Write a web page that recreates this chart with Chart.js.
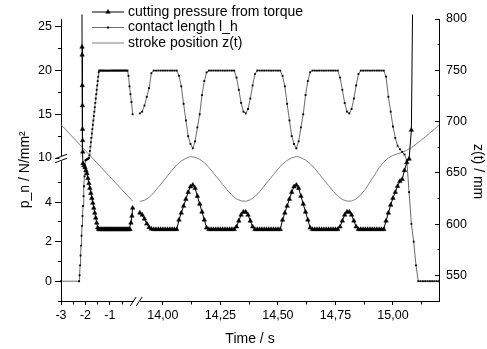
<!DOCTYPE html>
<html>
<head>
<meta charset="UTF-8">
<title>Cutting pressure</title>
<script src="https://cdn.jsdelivr.net/npm/chart.js"></script>
<style>
  html, body { margin: 0; padding: 0; background: #fff; }
  #wrap { width: 487px; height: 349px; }
</style>
</head>
<body>
<div id="wrap"><canvas id="chart" width="487" height="349"></canvas></div>
<script>
// ---- data, left part of the time axis (run-in, s) ----
const tContactL = [-3, -2.26, -2.24, -2.22, -2.20, -2.18, -2.16, -2.14, -2.12, -2.10, -2.08, -2.06, -2.04, -2.02, -2.00,
  -1.98, -1.96, -1.94, -1.92, -1.90, -1.88, -1.86, -1.84, -1.82, -1.80, -1.78, -1.76, -1.74, -1.72, -1.70,
  -1.68, -1.66, -1.64, -1.62, -1.60, -1.58, -1.56, -1.54, -1.52, -1.50, -1.48, -1.46, -1.44,
  -1.40, -1.36, -1.32, -1.28, -1.24, -1.20, -1.16, -1.12, -1.08, -1.04, -1.00, -0.96, -0.92, -0.88, -0.84,
  -0.80, -0.76, -0.72, -0.68, -0.64, -0.60, -0.56, -0.52, -0.48, -0.44, -0.40, -0.36, -0.32, -0.28,
  -0.24, -0.20, -0.16, -0.12, -0.07];
const contactL = [0, 0, 0.3, 0.8, 1.3, 1.8, 2.3, 2.8, 3.3, 3.8, 4.3, 4.8, 5.3, 5.8, 6.3,
  6.8, 7.3, 7.8, 8.3, 8.8, 9.3, 9.8, 10.3, 10.8, 11.3, 11.8, 12.3, 12.8, 13.3, 13.8,
  14.3, 14.8, 15.3, 15.8, 16.3, 16.8, 17.3, 17.8, 18.3, 18.8, 19.3, 19.8, 20,
  20, 20, 20, 20, 20, 20, 20, 20, 20, 20, 20, 20, 20, 20, 20,
  20, 20, 20, 20, 20, 20, 20, 20, 20, 20, 20, 20, 20, 20,
  19.4, 18.2, 17.3, 16.4, 15.0];

const tPressL = [-2.145, -2.14, -2.135, -2.13, -2.125, -2.12, -2.115, -2.11, -2.10,
  -2.06, -2.02, -1.98, -1.94, -1.90, -1.86, -1.82, -1.78, -1.74, -1.70, -1.66, -1.62, -1.58, -1.54, -1.50, -1.46,
  -1.42, -1.38, -1.34, -1.30, -1.26, -1.22, -1.18, -1.14, -1.10, -1.06, -1.02, -0.98, -0.94, -0.90, -0.86, -0.82,
  -0.78, -0.74, -0.70, -0.66, -0.62, -0.58, -0.54, -0.50, -0.46, -0.42, -0.38, -0.34, -0.30, -0.26, -0.22, -0.18,
  -0.14, -0.10, -0.07];
const pressL = [40, 22.7, 21.8, 18.3, 16.0, 13.3, 12.0, 10.7, 5.95,
  5.85, 5.75, 5.6, 5.45, 5.2, 4.95, 4.7, 4.45, 4.2, 3.95, 3.7, 3.45, 3.2, 2.95, 2.7, 2.62,
  2.62, 2.62, 2.62, 2.62, 2.62, 2.62, 2.62, 2.62, 2.62, 2.62, 2.62, 2.62, 2.62, 2.62, 2.62, 2.62,
  2.62, 2.62, 2.62, 2.62, 2.62, 2.62, 2.62, 2.62, 2.62, 2.62, 2.62, 2.62, 2.62, 2.62, 2.62, 2.62,
  2.95, 3.3, 3.7];

const tStrokeL = [-3, -2, -1, -0.07];
const strokeL = [697, 671.6, 646.2, 622.3];

// ---- data, right part of the time axis (s) ----
const tRight = [
  13.90, 13.91, 13.92, 13.93, 13.94, 13.95, 13.96, 13.97, 13.98, 13.99,
  14.00, 14.01, 14.02, 14.03, 14.04, 14.05, 14.06, 14.07, 14.08, 14.09,
  14.10, 14.11, 14.12, 14.13, 14.14, 14.15, 14.16, 14.17, 14.18, 14.19,
  14.20, 14.21, 14.22, 14.23, 14.24, 14.25, 14.26, 14.27, 14.28, 14.29,
  14.30, 14.31, 14.32, 14.33, 14.34, 14.35, 14.36, 14.37, 14.38, 14.39,
  14.40, 14.41, 14.42, 14.43, 14.44, 14.45, 14.46, 14.47, 14.48, 14.49,
  14.50, 14.51, 14.52, 14.53, 14.54, 14.55, 14.56, 14.57, 14.58, 14.59,
  14.60, 14.61, 14.62, 14.63, 14.64, 14.65, 14.66, 14.67, 14.68, 14.69,
  14.70, 14.71, 14.72, 14.73, 14.74, 14.75, 14.76, 14.77, 14.78, 14.79,
  14.80, 14.81, 14.82, 14.83, 14.84, 14.85, 14.86, 14.87, 14.88, 14.89,
  14.90, 14.91, 14.92, 14.93, 14.94, 14.95, 14.96, 14.97, 14.98, 14.99,
  15.00, 15.01, 15.02, 15.03, 15.04, 15.05, 15.06, 15.07, 15.08, 15.09,
  15.10, 15.11, 15.12, 15.13, 15.14, 15.15, 15.16, 15.17, 15.18, 15.19,
  15.20];
const contactR = [
  15.1, 15.3, 16.0, 17.0, 18.0, 19.7, 20, 20, 20, 20,
  20, 20, 20, 20, 20, 20, 20, 19.4, 18.2, 16.2,
  14.3, 12.5, 11.6, 11.1, 11.9, 13.5, 15.0, 17.2, 18.8, 19.8,
  20, 20, 20, 20, 20, 20, 20, 20, 20, 20,
  20, 20, 19.2, 17.8, 16.3, 15.3, 15.1, 15.6, 16.8, 18.3,
  19.6, 20, 20, 20, 20, 20, 20, 20, 20, 20,
  20, 20, 19.4, 18.2, 16.2, 14.3, 12.5, 11.6, 11.1, 11.9,
  13.5, 15.0, 17.2, 18.8, 19.8, 20, 20, 20, 20, 20,
  20, 20, 20, 20, 20, 20, 20, 19.2, 17.8, 16.3,
  15.3, 15.1, 15.6, 16.8, 18.3, 19.6, 20, 20, 20, 20,
  20, 20, 20, 20, 20, 20, 20, 19.3, 17.0, 15.3,
  13.6, 12.3, 11.4, 11.0, 10.7, 10.4, 6.5, 4.5, 2.9, 2.0,
  0.8, 0, 0, 0, 0, 0, 0, 0, 0, 0,
  0];
const pressR = [
  3.45, 3.35, 3.15, 2.9, 2.72, 2.64, 2.62, 2.62, 2.62, 2.62,
  2.62, 2.62, 2.62, 2.62, 2.62, 2.62, 2.62, 3.1, 3.45, 3.8,
  4.15, 4.5, 4.78, 4.86, 4.7, 4.3, 3.9, 3.5, 3.1, 2.7,
  2.62, 2.62, 2.62, 2.62, 2.62, 2.62, 2.62, 2.62, 2.62, 2.62,
  2.62, 2.62, 2.75, 3.05, 3.35, 3.5, 3.5, 3.35, 3.05, 2.75,
  2.62, 2.62, 2.62, 2.62, 2.62, 2.62, 2.62, 2.62, 2.62, 2.62,
  2.62, 2.62, 3.1, 3.45, 3.8, 4.15, 4.5, 4.78, 4.86, 4.7,
  4.3, 3.9, 3.5, 3.1, 2.7, 2.62, 2.62, 2.62, 2.62, 2.62,
  2.62, 2.62, 2.62, 2.62, 2.62, 2.62, 2.62, 2.75, 3.05, 3.35,
  3.5, 3.5, 3.35, 3.05, 2.75, 2.62, 2.62, 2.62, 2.62, 2.62,
  2.62, 2.62, 2.62, 2.62, 2.62, 2.62, 2.62, 3.05, 3.45, 3.85,
  4.2, 4.5, 4.8, 5.05, 5.15, 5.6, 6.0, 8.5, 13.2, 40,
  null, null, null, null, null, null, null, null, null, null,
  null];

const tStrokeR = [13.90, 13.92, 13.94, 13.96, 13.98, 14.00, 14.02, 14.04, 14.06, 14.08, 14.10, 14.12, 14.14,
  14.16, 14.18, 14.20, 14.22, 14.24, 14.26, 14.28, 14.30, 14.32, 14.34, 14.36, 14.38, 14.40, 14.42,
  14.44, 14.46, 14.48, 14.50, 14.52, 14.54, 14.56, 14.58, 14.60, 14.62, 14.64, 14.66, 14.68, 14.70,
  14.72, 14.74, 14.76, 14.78, 14.80, 14.82, 14.84, 14.86, 14.88, 14.90, 14.92, 14.94, 14.96, 14.98,
  15.00, 15.02, 15.04, 15.06, 15.08, 15.10, 15.12, 15.14, 15.16, 15.18, 15.20];
const strokeR = [622.1, 623.2, 625.9, 630.5, 635.9, 641.4, 647.1, 652.6, 657.6, 661.5, 664.2, 665.8, 665.1,
  663.2, 659.9, 655.3, 649.8, 644.2, 638.7, 633.2, 628.2, 624.6, 622.6, 622.3, 623.7, 626.8, 631.5,
  637.1, 642.6, 648.2, 653.7, 658.5, 662.1, 664.6, 666.0, 664.8, 662.5, 659.0, 654.2, 648.7, 643.1,
  637.6, 632.1, 627.3, 624.0, 622.4, 622.5, 624.5, 628.5, 634, 641, 648, 655, 660.5, 664.5,
  667, 668.5, 670, 672, 674.5, 678, 681.5, 685, 689, 692.5, 696.5];

// ---- ticks ----
const xMajor = [-3, -2, -1, 14, 14.25, 14.5, 14.75, 15];
const xMinor = [-2.5, -1.5, -0.5, 14.125, 14.375, 14.625, 14.875, 15.125];
const yMajor = [0, 2, 4, 10, 15, 20, 25];
const yMinor = [-1, 1, 3, 5, 12.5, 17.5, 22.5];
const zMajor = [550, 600, 650, 700, 750, 800];
const zMinor = [525, 575, 625, 675, 725, 775];

// linear axis made of pieces (broken axis), pieces get a share of the axis length by size
class BrokenScale extends Chart.LinearScale {
  static id = 'broken';
  static defaults = Chart.LinearScale.defaults;

  determineDataLimits() {
    const segs = this.options.segments;
    this.min = segs[0].min;
    this.max = segs[segs.length - 1].max;
  }
  buildTicks() {
    const o = this.options;
    return o.majorTicks.map(v => ({ value: v, major: true }))
      .concat(o.minorTicks.map(v => ({ value: v, major: false })))
      .sort((a, b) => a.value - b.value);
  }
  getPixelForValue(value) {
    if (value === null || value === undefined || isNaN(value)) return NaN;
    const segs = this.options.segments;
    let total = 0;
    for (const g of segs) total += g.size;
    let acc = 0, i = 0;
    if (value >= segs[0].min) {
      while (i < segs.length - 1 && value > segs[i].max) { acc += segs[i].size; i++; }
    }
    const g = segs[i];
    return this.getPixelForDecimal((acc + (value - g.min) / (g.max - g.min) * g.size) / total);
  }
  getValueForPixel(pixel) {
    const segs = this.options.segments;
    let total = 0;
    for (const g of segs) total += g.size;
    let d = this.getDecimalForPixel(pixel) * total;
    for (const g of segs) {
      if (d <= g.size) return g.min + d / g.size * (g.max - g.min);
      d -= g.size;
    }
    const g = segs[segs.length - 1];
    return g.max + d / g.size * (g.max - g.min);
  }
}
Chart.register(BrokenScale);

const pts = (ts, vs) => ts.map((t, i) => ({ x: t, y: vs[i] }));
const gap = [{ x: 7, y: null }];

// "//" marks where the axes are broken
const axisBreaks = {
  id: 'axisBreaks',
  afterDraw(chart) {
    const ctx = chart.ctx;
    const sx = chart.scales.x, sy = chart.scales.y;
    const gx = sx.options.segments[1], gy = sy.options.segments[1];
    const bx = (sx.getPixelForValue(gx.min) + sx.getPixelForValue(gx.max)) / 2;
    const by = (sy.getPixelForValue(gy.min) + sy.getPixelForValue(gy.max)) / 2;
    const ay = chart.chartArea.bottom, ax = chart.chartArea.left;
    ctx.save();
    ctx.fillStyle = '#fff';
    ctx.fillRect(bx - 3, ay - 1.5, 6, 3);
    ctx.fillRect(ax - 1.5, by - 3, 3, 5);
    ctx.strokeStyle = '#000';
    ctx.lineWidth = 1;
    ctx.beginPath();
    ctx.moveTo(bx - 7, ay + 5); ctx.lineTo(bx - 1, ay - 4);
    ctx.moveTo(bx - 1, ay + 5); ctx.lineTo(bx + 5, ay - 4);
    ctx.moveTo(ax - 6, by - 0.5); ctx.lineTo(ax + 6, by - 5);
    ctx.moveTo(ax - 6, by + 3.5); ctx.lineTo(ax + 6, by - 1);
    ctx.stroke();
    ctx.restore();
  }
};

// legend: line with marker, label to the right
const lineLegend = {
  id: 'lineLegend',
  afterDraw(chart, args, opts) {
    const ctx = chart.ctx;
    ctx.save();
    chart.data.datasets.forEach((ds, i) => {
      const y = opts.top + i * opts.rowGap;
      ctx.strokeStyle = ds.borderColor;
      ctx.lineWidth = ds.borderWidth;
      ctx.beginPath();
      ctx.moveTo(opts.left, y);
      ctx.lineTo(opts.left + opts.lineLen, y);
      ctx.stroke();
      if (ds.pointRadius > 0 && Chart.helpers && Chart.helpers.drawPoint) {
        ctx.fillStyle = ds.pointBackgroundColor;
        ctx.strokeStyle = ds.pointBorderColor;
        ctx.lineWidth = ds.pointBorderWidth;
        Chart.helpers.drawPoint(ctx, { pointStyle: ds.pointStyle, radius: ds.pointRadius, borderWidth: ds.pointBorderWidth, rotation: 0 },
          opts.left + opts.lineLen / 2, y);
      }
      ctx.fillStyle = '#000';
      ctx.font = opts.font;
      ctx.textBaseline = 'middle';
      ctx.textAlign = 'left';
      ctx.fillText(ds.label, opts.left + opts.lineLen + opts.textGap, y);
    });
    ctx.restore();
  }
};

Chart.defaults.font.family = "'Liberation Sans', Arial, sans-serif";
Chart.defaults.color = '#000';

const minorDash = ctx => ctx.tick && !ctx.tick.major ? [2.5, 20] : [];

new Chart(document.getElementById('chart'), {
  type: 'line',
  data: {
    datasets: [
      {
        label: 'cutting pressure from torque',
        data: pts(tPressL, pressL).concat(gap, pts(tRight, pressR)),
        yAxisID: 'y',
        borderColor: '#000',
        borderWidth: 1,
        pointStyle: 'triangle',
        pointRadius: 2.6,
        pointBackgroundColor: '#000',
        pointBorderColor: '#000',
        pointBorderWidth: 0.5,
        order: 1
      },
      {
        label: 'contact length l_h',
        data: pts(tContactL, contactL).concat(gap, pts(tRight, contactR)),
        yAxisID: 'y',
        borderColor: '#444',
        borderWidth: 0.8,
        pointStyle: 'rect',
        pointRadius: 1.3,
        pointBackgroundColor: '#000',
        pointBorderColor: '#000',
        pointBorderWidth: 0,
        order: 2
      },
      {
        label: 'stroke position z(t)',
        data: pts(tStrokeL, strokeL).concat(gap, pts(tStrokeR, strokeR)),
        yAxisID: 'y2',
        borderColor: '#808080',
        borderWidth: 1,
        pointRadius: 0,
        order: 3
      }
    ]
  },
  options: {
    responsive: false,
    animation: false,
    events: [],
    layout: { padding: { top: 19, left: 0, right: 0, bottom: 0 } },
    plugins: {
      legend: { display: false },
      tooltip: { enabled: false },
      lineLegend: { left: 92, top: 12, rowGap: 15.5, lineLen: 32, textGap: 4, font: "14px 'Liberation Sans', Arial, sans-serif" }
    },
    scales: {
      x: {
        type: 'broken',
        position: 'bottom',
        segments: [{ min: -3, max: 0, size: 73.5 }, { min: 0, max: 13.9, size: 5.5 }, { min: 13.9, max: 15.2, size: 299.6 }],
        majorTicks: xMajor,
        minorTicks: xMinor,
        afterFit: s => { s.height = 48; },
        border: { color: '#000', width: 1 },
        grid: { drawOnChartArea: false, tickLength: 4, tickColor: '#000', tickBorderDash: minorDash },
        ticks: {
          autoSkip: false, maxRotation: 0, padding: 3, font: { size: 12.5 },
          callback: (v, i, ticks) => ticks[i].major ? (v < 5 ? String(v) : v.toFixed(2).replace('.', ',')) : ''
        },
        title: { display: true, text: 'Time / s', font: { size: 14 }, padding: { top: 0, bottom: 1.6 } }
      },
      y: {
        type: 'broken',
        position: 'left',
        segments: [{ min: -1, max: 6.1, size: 140.5 }, { min: 6.1, max: 10, size: 2.5 }, { min: 10, max: 25.9, size: 139 }],
        majorTicks: yMajor,
        minorTicks: yMinor,
        afterFit: s => { s.width = 61; },
        border: { color: '#000', width: 1 },
        grid: { drawOnChartArea: false, tickLength: 6, tickColor: '#000', tickBorderDash: ctx => ctx.tick && !ctx.tick.major ? [3, 3] : [], tickBorderDashOffset: ctx => ctx.tick && !ctx.tick.major ? 3 : 0 },
        ticks: { autoSkip: false, padding: 3, font: { size: 12.5 }, callback: (v, i, ticks) => ticks[i].major ? String(v) : '' },
        // trailing spaces move the rotated title down the axis, as in the original
        title: { display: true, text: 'p_n / N/mm²     ', font: { size: 14 }, padding: { top: 16.6, bottom: 0 } }
      },
      y2: {
        type: 'broken',
        position: 'right',
        segments: [{ min: 525, max: 800, size: 1 }],
        majorTicks: zMajor,
        minorTicks: zMinor,
        afterFit: s => { s.width = 48; },
        border: { color: '#000', width: 1 },
        grid: { drawOnChartArea: false, tickLength: -4, tickColor: '#000', tickBorderDash: minorDash },
        ticks: { autoSkip: false, padding: 11, font: { size: 12.5 }, callback: (v, i, ticks) => ticks[i].major ? String(v) : '' },
        title: { display: true, text: '      z(t) / mm', font: { size: 14 }, padding: { top: 0.6, bottom: 0 } }
      }
    }
  },
  plugins: [axisBreaks, lineLegend]
});
</script>
</body>
</html>
